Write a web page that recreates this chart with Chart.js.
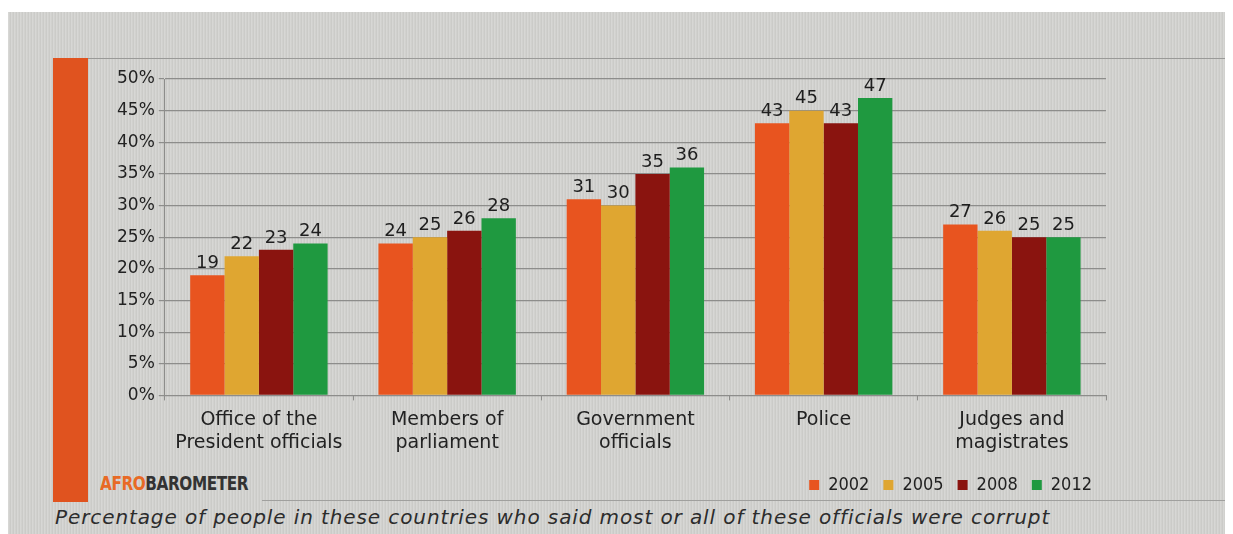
<!doctype html>
<html>
<head>
<title>Afrobarometer corruption chart</title>
<style>
body { margin: 0; background: #fff; }
.panel {
  position: absolute; left: 8px; top: 12px; width: 1217px; height: 522px;
  background-color: #d3d3d0;
  background-image: repeating-linear-gradient(90deg, rgba(255,255,255,0.10) 0px, rgba(255,255,255,0.10) 1px, rgba(0,0,0,0.04) 2px, rgba(0,0,0,0.04) 3px);
}
.sidebar { position: absolute; left: 53px; top: 58px; width: 35px; height: 444px; background: #e0531f; }
.topline { position: absolute; left: 88px; top: 58px; width: 1137px; height: 1px; background: #9a9a98; }
.botline { position: absolute; left: 262px; top: 500px; width: 963px; height: 1px; background: #a0a09e; }
.logo { position: absolute; left: 100px; top: 471px; font: bold 20px "DejaVu Sans Condensed", "DejaVu Sans"; letter-spacing: -0.5px; color: #333; transform: scaleX(0.85); transform-origin: left; }
.logo span { color: #e86a25; }
.caption { position: absolute; left: 55px; top: 505px; font: italic 20px "DejaVu Sans", sans-serif; color: #2c2c2c; letter-spacing: 0.9px; white-space: nowrap; }
#wrap { position: absolute; left: 0; top: 0; width: 1233px; height: 534px; }
</style>
</head>
<body>
<div class="panel"></div>
<div class="sidebar"></div>
<div class="topline"></div>
<div class="botline"></div>
<div class="logo"><span>AFRO</span>BAROMETER</div>
<div class="caption">Percentage of people in these countries who said most or all of these officials were corrupt</div>
<div id="wrap"><canvas id="myChart"></canvas></div>

<script src="https://cdn.jsdelivr.net/npm/chart.js@4/dist/chart.umd.min.js"></script>
<script>
var categories = [
  ['Office of the', 'President officials'],
  ['Members of', 'parliament'],
  ['Government', 'officials'],
  ['Police'],
  ['Judges and', 'magistrates']
];
var years = ['2002', '2005', '2008', '2012'];
var v2002 = [19, 24, 31, 43, 27];
var v2005 = [22, 25, 30, 45, 26];
var v2008 = [23, 26, 35, 43, 25];
var v2012 = [24, 28, 36, 47, 25];
var yTicks = [0, 5, 10, 15, 20, 25, 30, 35, 40, 45, 50];

var colors = ['#e8541f', '#dfa631', '#8a140f', '#1f9940'];
var series = [v2002, v2005, v2008, v2012];

// value labels above each bar
var valueLabels = {
  id: 'valueLabels',
  afterDatasetsDraw: function(chart) {
    var ctx = chart.ctx;
    ctx.save();
    ctx.font = '18px "DejaVu Sans"';
    ctx.fillStyle = '#1e1e1e';
    ctx.textAlign = 'center';
    ctx.textBaseline = 'bottom';
    chart.data.datasets.forEach(function(ds, i) {
      chart.getDatasetMeta(i).data.forEach(function(bar, j) {
        ctx.fillText(ds.data[j], bar.x, bar.y - 3);
      });
    });
    ctx.restore();
  }
};

var ctx = document.getElementById('myChart').getContext('2d');
var myChart = new Chart(ctx, {
  type: 'bar',
  data: {
    labels: categories,
    datasets: years.map(function(y, i) {
      return { label: y, data: series[i], backgroundColor: colors[i], barPercentage: 1.0, categoryPercentage: 0.73 };
    })
  },
  options: {
    responsive: true,
    maintainAspectRatio: false,
    animation: false,
    layout: { padding: { left: 113, top: 79, right: 127, bottom: 30 } },
    plugins: {
      tooltip: { enabled: false },
      legend: {
        position: 'bottom',
        align: 'end',
        labels: { boxWidth: 10, boxHeight: 10, padding: 14, color: '#222', font: { size: 18, family: '"DejaVu Sans Condensed", "DejaVu Sans"' } }
      }
    },
    scales: {
      y: {
        min: 0, max: 50,
        afterBuildTicks: function(axis) { axis.ticks = yTicks.map(function(v) { return { value: v }; }); },
        ticks: { callback: function(v) { return v + '%'; }, color: '#222', font: { size: 17, family: '"DejaVu Sans"' }, padding: 4 },
        grid: { color: '#8d8d8b', lineWidth: 1.2, tickLength: 6 },
        border: { color: '#8d8d8b' }
      },
      x: {
        ticks: { color: '#222', font: { size: 19, family: '"DejaVu Sans"', lineHeight: 1.2 }, padding: 8, maxRotation: 0 },
        grid: { drawOnChartArea: false, color: '#8d8d8b', tickLength: 5 },
        border: { color: '#8d8d8b' }
      }
    }
  },
  plugins: [valueLabels]
});
</script>
</body>
</html>
